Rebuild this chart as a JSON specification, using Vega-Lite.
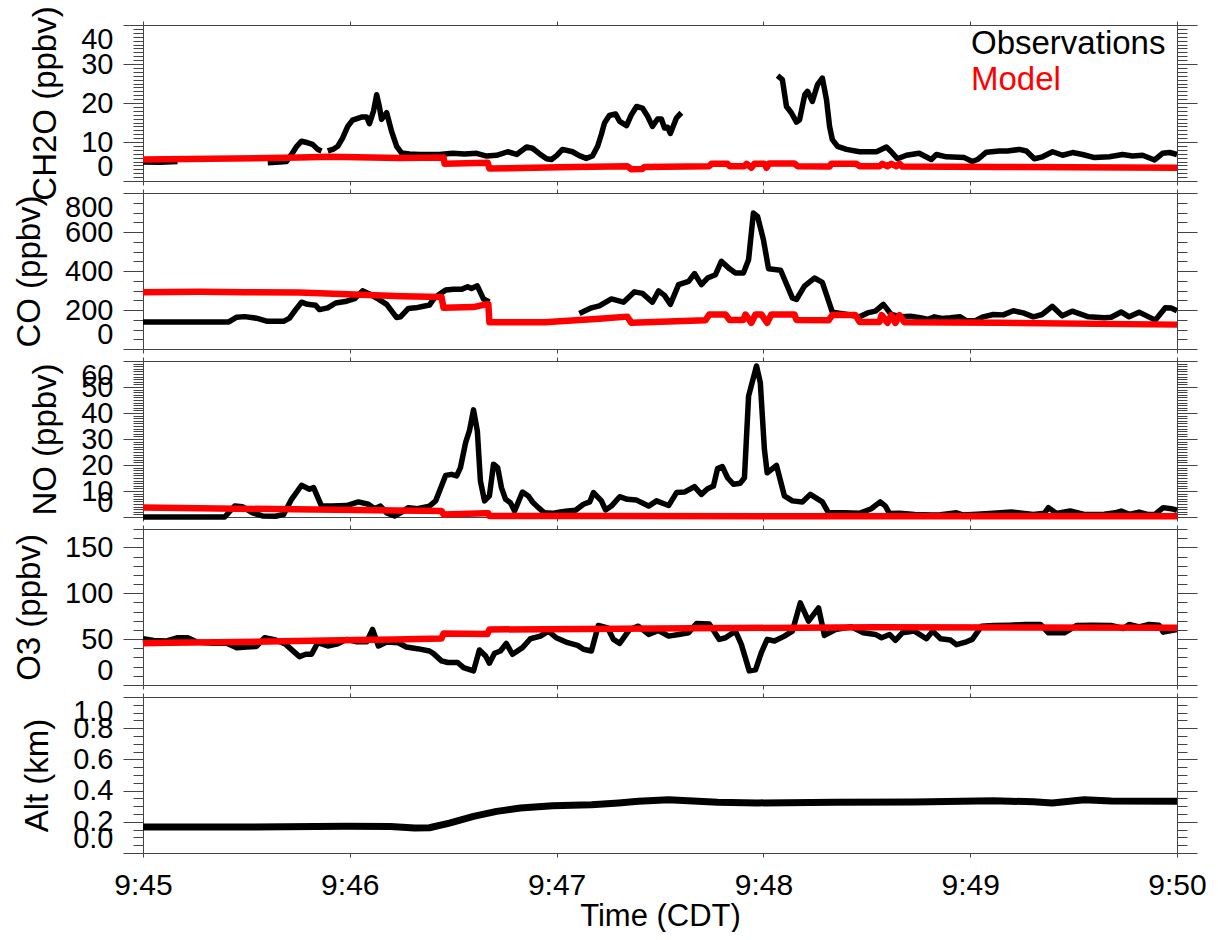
{
"$schema": "https://vega.github.io/schema/vega-lite/v6.json",
"padding": {"left": 13, "top": 5, "right": 5, "bottom": 0},
"config": {
  "font": "Liberation Sans",
  "view": {"stroke": "#444444", "strokeWidth": 1},
  "axis": {"domain": false, "grid": false, "tickColor": "#444444", "tickWidth": 1, "labelFont": "Liberation Sans", "titleFont": "Liberation Sans", "labelColor": "#000000", "titleColor": "#000000", "titleFontWeight": "normal"}
},
"datasets": {
"ch2o": [
{"series":"Observations","seg":1,"t":0,"v":4.9},{"series":"Observations","seg":1,"t":5,"v":4.8},{"series":"Observations","seg":1,"t":10,"v":5.0},
{"series":"Observations","seg":2,"t":36.2,"v":4.7},{"series":"Observations","seg":2,"t":39.6,"v":4.9},{"series":"Observations","seg":2,"t":41.6,"v":5.0},{"series":"Observations","seg":2,"t":43.1,"v":6.8},{"series":"Observations","seg":2,"t":44.6,"v":8.9},{"series":"Observations","seg":2,"t":46,"v":10.2},{"series":"Observations","seg":2,"t":47.8,"v":9.8},{"series":"Observations","seg":2,"t":49.2,"v":9.4},{"series":"Observations","seg":2,"t":50.7,"v":8.1},{"series":"Observations","seg":2,"t":51.8,"v":7.7},
{"series":"Observations","seg":3,"t":53.6,"v":7.7},{"series":"Observations","seg":3,"t":55.3,"v":8.2},{"series":"Observations","seg":3,"t":56.5,"v":8.9},{"series":"Observations","seg":3,"t":57.9,"v":11},{"series":"Observations","seg":3,"t":59.4,"v":14},{"series":"Observations","seg":3,"t":60.8,"v":15.6},{"series":"Observations","seg":3,"t":63.4,"v":16.4},{"series":"Observations","seg":3,"t":64.9,"v":16.4},{"series":"Observations","seg":3,"t":65.7,"v":14.7},{"series":"Observations","seg":3,"t":66.9,"v":18},{"series":"Observations","seg":3,"t":67.8,"v":22.1},{"series":"Observations","seg":3,"t":68.6,"v":19},{"series":"Observations","seg":3,"t":69.2,"v":15.8},{"series":"Observations","seg":3,"t":70.7,"v":17.5},{"series":"Observations","seg":3,"t":72.1,"v":12.8},{"series":"Observations","seg":3,"t":73.6,"v":8.9},{"series":"Observations","seg":3,"t":75,"v":7.2},{"series":"Observations","seg":3,"t":77.3,"v":6.9},{"series":"Observations","seg":3,"t":80.2,"v":6.8},{"series":"Observations","seg":3,"t":86,"v":6.8},{"series":"Observations","seg":3,"t":89.8,"v":7.1},{"series":"Observations","seg":3,"t":93.3,"v":6.9},{"series":"Observations","seg":3,"t":96.8,"v":7.1},{"series":"Observations","seg":3,"t":99.7,"v":6.4},{"series":"Observations","seg":3,"t":102.6,"v":6.6},{"series":"Observations","seg":3,"t":105.8,"v":7.5},{"series":"Observations","seg":3,"t":108.4,"v":6.8},{"series":"Observations","seg":3,"t":111.3,"v":8.7},{"series":"Observations","seg":3,"t":113,"v":8.4},{"series":"Observations","seg":3,"t":115,"v":7},{"series":"Observations","seg":3,"t":117.1,"v":5.7},{"series":"Observations","seg":3,"t":118.5,"v":5.5},{"series":"Observations","seg":3,"t":120,"v":6.5},{"series":"Observations","seg":3,"t":121.7,"v":8.1},{"series":"Observations","seg":3,"t":124.6,"v":7.5},{"series":"Observations","seg":3,"t":126.6,"v":6.5},{"series":"Observations","seg":3,"t":128.6,"v":5.8},{"series":"Observations","seg":3,"t":130.4,"v":6.4},{"series":"Observations","seg":3,"t":131.9,"v":8.9},{"series":"Observations","seg":3,"t":133,"v":12},{"series":"Observations","seg":3,"t":133.9,"v":14.9},{"series":"Observations","seg":3,"t":135.3,"v":16.8},{"series":"Observations","seg":3,"t":137.1,"v":17.2},{"series":"Observations","seg":3,"t":138.3,"v":15.3},{"series":"Observations","seg":3,"t":140.3,"v":14.2},{"series":"Observations","seg":3,"t":141.7,"v":17},{"series":"Observations","seg":3,"t":143.2,"v":19.1},{"series":"Observations","seg":3,"t":144.9,"v":18.7},{"series":"Observations","seg":3,"t":146.4,"v":16.6},{"series":"Observations","seg":3,"t":147.8,"v":14},{"series":"Observations","seg":3,"t":149.3,"v":15.9},{"series":"Observations","seg":3,"t":150.4,"v":15.9},{"series":"Observations","seg":3,"t":151.3,"v":13.6},{"series":"Observations","seg":3,"t":152.2,"v":13.8},{"series":"Observations","seg":3,"t":153,"v":12.2},{"series":"Observations","seg":3,"t":154.8,"v":16.2},{"series":"Observations","seg":3,"t":156.2,"v":17.5},
{"series":"Observations","seg":4,"t":184.1,"v":27},{"series":"Observations","seg":4,"t":185.5,"v":26},{"series":"Observations","seg":4,"t":186.7,"v":19.1},{"series":"Observations","seg":4,"t":188.1,"v":17.5},{"series":"Observations","seg":4,"t":189.6,"v":15.1},{"series":"Observations","seg":4,"t":190.5,"v":15.7},{"series":"Observations","seg":4,"t":192,"v":22.1},{"series":"Observations","seg":4,"t":192.8,"v":23},{"series":"Observations","seg":4,"t":194.2,"v":20.4},{"series":"Observations","seg":4,"t":195.7,"v":24.7},{"series":"Observations","seg":4,"t":197.1,"v":26.4},{"series":"Observations","seg":4,"t":198.3,"v":20.9},{"series":"Observations","seg":4,"t":199.2,"v":14},{"series":"Observations","seg":4,"t":200,"v":10.6},{"series":"Observations","seg":4,"t":201.5,"v":8.9},{"series":"Observations","seg":4,"t":204.1,"v":8.1},{"series":"Observations","seg":4,"t":207.9,"v":7.5},{"series":"Observations","seg":4,"t":212.8,"v":7.5},{"series":"Observations","seg":4,"t":215.7,"v":8.7},{"series":"Observations","seg":4,"t":217.1,"v":7.5},{"series":"Observations","seg":4,"t":218.9,"v":5.7},{"series":"Observations","seg":4,"t":221.5,"v":6.6},{"series":"Observations","seg":4,"t":225.2,"v":7.1},{"series":"Observations","seg":4,"t":228.7,"v":5.5},{"series":"Observations","seg":4,"t":230.2,"v":6.8},{"series":"Observations","seg":4,"t":233.1,"v":6.2},{"series":"Observations","seg":4,"t":238.3,"v":6},{"series":"Observations","seg":4,"t":240.6,"v":5},{"series":"Observations","seg":4,"t":242.1,"v":5.5},{"series":"Observations","seg":4,"t":244.7,"v":7.4},{"series":"Observations","seg":4,"t":248.5,"v":7.7},{"series":"Observations","seg":4,"t":250.8,"v":7.7},{"series":"Observations","seg":4,"t":254.3,"v":8.1},{"series":"Observations","seg":4,"t":256.3,"v":7.7},{"series":"Observations","seg":4,"t":258.6,"v":5.7},{"series":"Observations","seg":4,"t":261,"v":6.2},{"series":"Observations","seg":4,"t":263.9,"v":7.5},{"series":"Observations","seg":4,"t":266.8,"v":6.6},{"series":"Observations","seg":4,"t":269.7,"v":7.3},{"series":"Observations","seg":4,"t":272.6,"v":6.8},{"series":"Observations","seg":4,"t":276.1,"v":6},{"series":"Observations","seg":4,"t":280.4,"v":6.2},{"series":"Observations","seg":4,"t":284.2,"v":6.8},{"series":"Observations","seg":4,"t":287.1,"v":6.4},{"series":"Observations","seg":4,"t":290,"v":6.6},{"series":"Observations","seg":4,"t":293.5,"v":5.4},{"series":"Observations","seg":4,"t":295.8,"v":7.1},{"series":"Observations","seg":4,"t":297.9,"v":7.3},{"series":"Observations","seg":4,"t":300,"v":6.8},
{"series":"Model","seg":1,"t":0,"v":5.5},{"series":"Model","seg":1,"t":45.4,"v":6.0},{"series":"Model","seg":1,"t":54.1,"v":6.2},{"series":"Model","seg":1,"t":74.4,"v":5.9},{"series":"Model","seg":1,"t":87.2,"v":6.0},{"series":"Model","seg":1,"t":87.5,"v":4.4},{"series":"Model","seg":1,"t":100,"v":4.7},{"series":"Model","seg":1,"t":100.5,"v":3.2},{"series":"Model","seg":1,"t":120.8,"v":3.5},{"series":"Model","seg":1,"t":140.5,"v":3.8},{"series":"Model","seg":1,"t":141.7,"v":3.0},{"series":"Model","seg":1,"t":144.9,"v":3.1},{"series":"Model","seg":1,"t":145.5,"v":3.6},{"series":"Model","seg":1,"t":164.3,"v":3.8},{"series":"Model","seg":1,"t":164.9,"v":4.4},{"series":"Model","seg":1,"t":169.6,"v":4.4},{"series":"Model","seg":1,"t":170.2,"v":3.8},{"series":"Model","seg":1,"t":174.5,"v":3.8},{"series":"Model","seg":1,"t":175.1,"v":4.4},{"series":"Model","seg":1,"t":176.5,"v":3.4},{"series":"Model","seg":1,"t":177.4,"v":4.4},{"series":"Model","seg":1,"t":180.3,"v":4.4},{"series":"Model","seg":1,"t":180.9,"v":3.4},{"series":"Model","seg":1,"t":181.7,"v":4.5},{"series":"Model","seg":1,"t":189,"v":4.5},{"series":"Model","seg":1,"t":189.9,"v":3.8},{"series":"Model","seg":1,"t":199.2,"v":3.7},{"series":"Model","seg":1,"t":199.7,"v":4.4},{"series":"Model","seg":1,"t":207,"v":4.4},{"series":"Model","seg":1,"t":207.9,"v":3.8},{"series":"Model","seg":1,"t":213.7,"v":3.8},{"series":"Model","seg":1,"t":214.5,"v":4.4},{"series":"Model","seg":1,"t":216,"v":3.8},{"series":"Model","seg":1,"t":217.1,"v":4.4},{"series":"Model","seg":1,"t":218.6,"v":3.8},{"series":"Model","seg":1,"t":219.5,"v":4.4},{"series":"Model","seg":1,"t":220.3,"v":3.7},{"series":"Model","seg":1,"t":248.5,"v":3.6},{"series":"Model","seg":1,"t":300,"v":3.4}
],
"co": [
{"series":"Observations","seg":1,"t":0,"v":139},{"series":"Observations","seg":1,"t":24.9,"v":139},{"series":"Observations","seg":1,"t":27.2,"v":163},{"series":"Observations","seg":1,"t":29.5,"v":166},{"series":"Observations","seg":1,"t":32.9,"v":158},{"series":"Observations","seg":1,"t":36.1,"v":142},{"series":"Observations","seg":1,"t":40.8,"v":142},{"series":"Observations","seg":1,"t":42.5,"v":158},{"series":"Observations","seg":1,"t":44.3,"v":202},{"series":"Observations","seg":1,"t":46,"v":240},{"series":"Observations","seg":1,"t":47.7,"v":229},{"series":"Observations","seg":1,"t":50.1,"v":224},{"series":"Observations","seg":1,"t":51.2,"v":202},{"series":"Observations","seg":1,"t":53.6,"v":211},{"series":"Observations","seg":1,"t":55.9,"v":236},{"series":"Observations","seg":1,"t":59.1,"v":245},{"series":"Observations","seg":1,"t":61.4,"v":258},{"series":"Observations","seg":1,"t":63.7,"v":298},{"series":"Observations","seg":1,"t":65.4,"v":285},{"series":"Observations","seg":1,"t":68.3,"v":256},{"series":"Observations","seg":1,"t":70.7,"v":229},{"series":"Observations","seg":1,"t":73.6,"v":161},{"series":"Observations","seg":1,"t":74.7,"v":165},{"series":"Observations","seg":1,"t":77,"v":208},{"series":"Observations","seg":1,"t":79.1,"v":211},{"series":"Observations","seg":1,"t":81.4,"v":219},{"series":"Observations","seg":1,"t":83.1,"v":225},{"series":"Observations","seg":1,"t":84.3,"v":256},{"series":"Observations","seg":1,"t":86,"v":281},{"series":"Observations","seg":1,"t":87.8,"v":302},{"series":"Observations","seg":1,"t":90.1,"v":306},{"series":"Observations","seg":1,"t":92.4,"v":306},{"series":"Observations","seg":1,"t":94.2,"v":319},{"series":"Observations","seg":1,"t":95.3,"v":310},{"series":"Observations","seg":1,"t":97,"v":324},{"series":"Observations","seg":1,"t":98.8,"v":256},{"series":"Observations","seg":1,"t":100.5,"v":241},
{"series":"Observations","seg":2,"t":126.6,"v":182},{"series":"Observations","seg":2,"t":130.1,"v":211},{"series":"Observations","seg":2,"t":132.4,"v":221},{"series":"Observations","seg":2,"t":135.9,"v":257},{"series":"Observations","seg":2,"t":139.4,"v":240},{"series":"Observations","seg":2,"t":142.6,"v":293},{"series":"Observations","seg":2,"t":144.9,"v":285},{"series":"Observations","seg":2,"t":147.8,"v":240},{"series":"Observations","seg":2,"t":149.6,"v":298},{"series":"Observations","seg":2,"t":151.3,"v":275},{"series":"Observations","seg":2,"t":153,"v":229},{"series":"Observations","seg":2,"t":155.4,"v":330},{"series":"Observations","seg":2,"t":158.3,"v":347},{"series":"Observations","seg":2,"t":160,"v":387},{"series":"Observations","seg":2,"t":162,"v":330},{"series":"Observations","seg":2,"t":163.8,"v":364},{"series":"Observations","seg":2,"t":166.1,"v":381},{"series":"Observations","seg":2,"t":167.8,"v":450},{"series":"Observations","seg":2,"t":170.2,"v":411},{"series":"Observations","seg":2,"t":171.9,"v":390},{"series":"Observations","seg":2,"t":174.2,"v":390},{"series":"Observations","seg":2,"t":175.7,"v":458},{"series":"Observations","seg":2,"t":177.1,"v":697},{"series":"Observations","seg":2,"t":178.3,"v":680},{"series":"Observations","seg":2,"t":180,"v":561},{"series":"Observations","seg":2,"t":181.5,"v":411},{"series":"Observations","seg":2,"t":185,"v":404},{"series":"Observations","seg":2,"t":188.4,"v":262},{"series":"Observations","seg":2,"t":189.6,"v":254},{"series":"Observations","seg":2,"t":191.9,"v":322},{"series":"Observations","seg":2,"t":194.8,"v":364},{"series":"Observations","seg":2,"t":197.1,"v":342},{"series":"Observations","seg":2,"t":200,"v":189},{"series":"Observations","seg":2,"t":204.4,"v":177},{"series":"Observations","seg":2,"t":207.9,"v":165},{"series":"Observations","seg":2,"t":210.2,"v":185},{"series":"Observations","seg":2,"t":212.5,"v":194},{"series":"Observations","seg":2,"t":214.8,"v":229},{"series":"Observations","seg":2,"t":217.1,"v":177},{"series":"Observations","seg":2,"t":220,"v":165},{"series":"Observations","seg":2,"t":222.6,"v":168},{"series":"Observations","seg":2,"t":225.5,"v":160},{"series":"Observations","seg":2,"t":227.9,"v":152},{"series":"Observations","seg":2,"t":229.6,"v":165},{"series":"Observations","seg":2,"t":231.9,"v":157},{"series":"Observations","seg":2,"t":234.2,"v":160},{"series":"Observations","seg":2,"t":237.1,"v":165},{"series":"Observations","seg":2,"t":238.9,"v":145},{"series":"Observations","seg":2,"t":241.5,"v":145},{"series":"Observations","seg":2,"t":243.8,"v":165},{"series":"Observations","seg":2,"t":246.7,"v":177},{"series":"Observations","seg":2,"t":249.6,"v":175},{"series":"Observations","seg":2,"t":252.5,"v":196},{"series":"Observations","seg":2,"t":255.4,"v":185},{"series":"Observations","seg":2,"t":258.3,"v":165},{"series":"Observations","seg":2,"t":260.9,"v":177},{"series":"Observations","seg":2,"t":263.8,"v":219},{"series":"Observations","seg":2,"t":266.7,"v":170},{"series":"Observations","seg":2,"t":269.6,"v":194},{"series":"Observations","seg":2,"t":274.3,"v":165},{"series":"Observations","seg":2,"t":278.9,"v":160},{"series":"Observations","seg":2,"t":280.9,"v":163},{"series":"Observations","seg":2,"t":283.8,"v":190},{"series":"Observations","seg":2,"t":286.1,"v":165},{"series":"Observations","seg":2,"t":289,"v":189},{"series":"Observations","seg":2,"t":293.7,"v":148},{"series":"Observations","seg":2,"t":296.6,"v":212},{"series":"Observations","seg":2,"t":298.3,"v":210},{"series":"Observations","seg":2,"t":300,"v":196},
{"series":"Model","seg":1,"t":0,"v":291},{"series":"Model","seg":1,"t":16.4,"v":293},{"series":"Model","seg":1,"t":29.5,"v":291},{"series":"Model","seg":1,"t":45.4,"v":290},{"series":"Model","seg":1,"t":61.4,"v":279},{"series":"Model","seg":1,"t":75.3,"v":271},{"series":"Model","seg":1,"t":86.6,"v":267},{"series":"Model","seg":1,"t":87.2,"v":211},{"series":"Model","seg":1,"t":95.9,"v":215},{"series":"Model","seg":1,"t":99.4,"v":229},{"series":"Model","seg":1,"t":100.2,"v":229},{"series":"Model","seg":1,"t":100.5,"v":137},{"series":"Model","seg":1,"t":116.5,"v":137},{"series":"Model","seg":1,"t":132.4,"v":155},{"series":"Model","seg":1,"t":140.5,"v":166},{"series":"Model","seg":1,"t":141.7,"v":134},{"series":"Model","seg":1,"t":163.2,"v":147},{"series":"Model","seg":1,"t":164.3,"v":177},{"series":"Model","seg":1,"t":169,"v":177},{"series":"Model","seg":1,"t":170.2,"v":149},{"series":"Model","seg":1,"t":174.2,"v":149},{"series":"Model","seg":1,"t":174.8,"v":177},{"series":"Model","seg":1,"t":176.5,"v":134},{"series":"Model","seg":1,"t":177.7,"v":177},{"series":"Model","seg":1,"t":179.4,"v":177},{"series":"Model","seg":1,"t":181.1,"v":134},{"series":"Model","seg":1,"t":182.3,"v":177},{"series":"Model","seg":1,"t":189,"v":177},{"series":"Model","seg":1,"t":189.6,"v":149},{"series":"Model","seg":1,"t":198.9,"v":147},{"series":"Model","seg":1,"t":200,"v":174},{"series":"Model","seg":1,"t":206.7,"v":174},{"series":"Model","seg":1,"t":207.9,"v":139},{"series":"Model","seg":1,"t":213.7,"v":139},{"series":"Model","seg":1,"t":214.3,"v":174},{"series":"Model","seg":1,"t":216,"v":134},{"series":"Model","seg":1,"t":217.1,"v":174},{"series":"Model","seg":1,"t":218.3,"v":134},{"series":"Model","seg":1,"t":219.5,"v":174},{"series":"Model","seg":1,"t":220.9,"v":137},{"series":"Model","seg":1,"t":248.5,"v":134},{"series":"Model","seg":1,"t":300,"v":125}
],
"no": [
{"series":"Observations","seg":1,"t":0,"v":0},{"series":"Observations","seg":1,"t":23.7,"v":0},{"series":"Observations","seg":1,"t":26.6,"v":4.2},{"series":"Observations","seg":1,"t":28.9,"v":3.9},{"series":"Observations","seg":1,"t":31.8,"v":1.6},{"series":"Observations","seg":1,"t":34.7,"v":0.4},{"series":"Observations","seg":1,"t":38.5,"v":0.3},{"series":"Observations","seg":1,"t":40.8,"v":1},{"series":"Observations","seg":1,"t":43.1,"v":6.8},{"series":"Observations","seg":1,"t":46,"v":12.2},{"series":"Observations","seg":1,"t":48.3,"v":10.7},{"series":"Observations","seg":1,"t":49.5,"v":11.3},{"series":"Observations","seg":1,"t":51.8,"v":4.2},{"series":"Observations","seg":1,"t":54.7,"v":4.2},{"series":"Observations","seg":1,"t":59.1,"v":4.4},{"series":"Observations","seg":1,"t":62.5,"v":5.8},{"series":"Observations","seg":1,"t":65.4,"v":4.9},{"series":"Observations","seg":1,"t":67.2,"v":3.2},{"series":"Observations","seg":1,"t":68.9,"v":4.2},{"series":"Observations","seg":1,"t":70.7,"v":1.6},{"series":"Observations","seg":1,"t":73,"v":0.4},{"series":"Observations","seg":1,"t":74.7,"v":1.6},{"series":"Observations","seg":1,"t":77,"v":3.6},{"series":"Observations","seg":1,"t":79.6,"v":3.2},{"series":"Observations","seg":1,"t":83.1,"v":4.2},{"series":"Observations","seg":1,"t":84.9,"v":6.2},{"series":"Observations","seg":1,"t":86.6,"v":11.9},{"series":"Observations","seg":1,"t":87.8,"v":16},{"series":"Observations","seg":1,"t":89.5,"v":16.4},{"series":"Observations","seg":1,"t":91,"v":15.8},{"series":"Observations","seg":1,"t":92.1,"v":19},{"series":"Observations","seg":1,"t":93.6,"v":28.6},{"series":"Observations","seg":1,"t":94.7,"v":33.1},{"series":"Observations","seg":1,"t":95.9,"v":41.2},{"series":"Observations","seg":1,"t":97,"v":33.1},{"series":"Observations","seg":1,"t":97.9,"v":13.8},{"series":"Observations","seg":1,"t":99.1,"v":6.2},{"series":"Observations","seg":1,"t":100.5,"v":8.1},{"series":"Observations","seg":1,"t":101.7,"v":20.3},{"series":"Observations","seg":1,"t":102.9,"v":19},{"series":"Observations","seg":1,"t":104,"v":11.3},{"series":"Observations","seg":1,"t":105.2,"v":6.8},{"series":"Observations","seg":1,"t":106.6,"v":5.5},{"series":"Observations","seg":1,"t":107.8,"v":2.3},{"series":"Observations","seg":1,"t":110.1,"v":9.6},{"series":"Observations","seg":1,"t":111.8,"v":8.1},{"series":"Observations","seg":1,"t":113,"v":5.8},{"series":"Observations","seg":1,"t":114.7,"v":3.6},{"series":"Observations","seg":1,"t":116.5,"v":1.6},{"series":"Observations","seg":1,"t":118.8,"v":1.4},{"series":"Observations","seg":1,"t":121.1,"v":1.9},{"series":"Observations","seg":1,"t":123.2,"v":2.3},{"series":"Observations","seg":1,"t":125.5,"v":2.6},{"series":"Observations","seg":1,"t":127.8,"v":4.9},{"series":"Observations","seg":1,"t":129.6,"v":5.8},{"series":"Observations","seg":1,"t":130.7,"v":9.4},{"series":"Observations","seg":1,"t":133,"v":6.2},{"series":"Observations","seg":1,"t":134.2,"v":2.7},{"series":"Observations","seg":1,"t":135.9,"v":4.2},{"series":"Observations","seg":1,"t":138.3,"v":7.8},{"series":"Observations","seg":1,"t":140.5,"v":6.8},{"series":"Observations","seg":1,"t":143.2,"v":6.5},{"series":"Observations","seg":1,"t":146.7,"v":4.2},{"series":"Observations","seg":1,"t":149,"v":6.2},{"series":"Observations","seg":1,"t":152.5,"v":4.4},{"series":"Observations","seg":1,"t":154.8,"v":9.4},{"series":"Observations","seg":1,"t":157.1,"v":9.6},{"series":"Observations","seg":1,"t":160,"v":11.7},{"series":"Observations","seg":1,"t":162,"v":8.7},{"series":"Observations","seg":1,"t":163.8,"v":10.9},{"series":"Observations","seg":1,"t":165.5,"v":11.9},{"series":"Observations","seg":1,"t":166.7,"v":18.6},{"series":"Observations","seg":1,"t":168.1,"v":19.4},{"series":"Observations","seg":1,"t":169.6,"v":15.1},{"series":"Observations","seg":1,"t":171.3,"v":12.6},{"series":"Observations","seg":1,"t":173.3,"v":13},{"series":"Observations","seg":1,"t":174.5,"v":15.1},{"series":"Observations","seg":1,"t":175.7,"v":46.5},{"series":"Observations","seg":1,"t":178,"v":58.1},{"series":"Observations","seg":1,"t":179.1,"v":51.7},{"series":"Observations","seg":1,"t":180.3,"v":25.9},{"series":"Observations","seg":1,"t":181.1,"v":17},{"series":"Observations","seg":1,"t":183.8,"v":19.8},{"series":"Observations","seg":1,"t":186.1,"v":8.1},{"series":"Observations","seg":1,"t":188.4,"v":6.2},{"series":"Observations","seg":1,"t":191.3,"v":5.8},{"series":"Observations","seg":1,"t":193.6,"v":8.7},{"series":"Observations","seg":1,"t":197.1,"v":5.8},{"series":"Observations","seg":1,"t":198.9,"v":1.6},{"series":"Observations","seg":1,"t":203.2,"v":1.6},{"series":"Observations","seg":1,"t":207.9,"v":1.4},{"series":"Observations","seg":1,"t":211.3,"v":3.2},{"series":"Observations","seg":1,"t":213.9,"v":5.8},{"series":"Observations","seg":1,"t":215.4,"v":4.2},{"series":"Observations","seg":1,"t":216.6,"v":1.3},{"series":"Observations","seg":1,"t":219.5,"v":1.4},{"series":"Observations","seg":1,"t":223.9,"v":1},{"series":"Observations","seg":1,"t":228.5,"v":0.8},{"series":"Observations","seg":1,"t":231.4,"v":0.9},{"series":"Observations","seg":1,"t":236,"v":1.6},{"series":"Observations","seg":1,"t":237.8,"v":0.8},{"series":"Observations","seg":1,"t":242.1,"v":1.1},{"series":"Observations","seg":1,"t":246.7,"v":1.4},{"series":"Observations","seg":1,"t":252,"v":1.9},{"series":"Observations","seg":1,"t":258.3,"v":1},{"series":"Observations","seg":1,"t":261.5,"v":1.4},{"series":"Observations","seg":1,"t":262.7,"v":3.6},{"series":"Observations","seg":1,"t":265,"v":1.4},{"series":"Observations","seg":1,"t":269,"v":2.3},{"series":"Observations","seg":1,"t":273.1,"v":1},{"series":"Observations","seg":1,"t":278.9,"v":1.1},{"series":"Observations","seg":1,"t":282.1,"v":1.6},{"series":"Observations","seg":1,"t":283.8,"v":2.3},{"series":"Observations","seg":1,"t":286.1,"v":1},{"series":"Observations","seg":1,"t":289,"v":1.9},{"series":"Observations","seg":1,"t":291.4,"v":1},{"series":"Observations","seg":1,"t":293.7,"v":1.1},{"series":"Observations","seg":1,"t":296,"v":3.6},{"series":"Observations","seg":1,"t":298.3,"v":3.2},{"series":"Observations","seg":1,"t":300,"v":2.6},
{"series":"Model","seg":1,"t":0,"v":3.7},{"series":"Model","seg":1,"t":27.2,"v":3.2},{"series":"Model","seg":1,"t":61.4,"v":2.7},{"series":"Model","seg":1,"t":86.6,"v":2.3},{"series":"Model","seg":1,"t":87.2,"v":1.0},{"series":"Model","seg":1,"t":99.4,"v":1.4},{"series":"Model","seg":1,"t":100.2,"v":1.4},{"series":"Model","seg":1,"t":100.5,"v":0.4},{"series":"Model","seg":1,"t":132.4,"v":0.4},{"series":"Model","seg":1,"t":190.4,"v":0.3},{"series":"Model","seg":1,"t":300,"v":0.3}
],
"o3": [
{"series":"Observations","seg":1,"t":0,"v":50.4},{"series":"Observations","seg":1,"t":3.1,"v":48.6},{"series":"Observations","seg":1,"t":6.6,"v":47.9},{"series":"Observations","seg":1,"t":10.1,"v":51.5},{"series":"Observations","seg":1,"t":13,"v":51.5},{"series":"Observations","seg":1,"t":15.6,"v":46.8},{"series":"Observations","seg":1,"t":20.2,"v":45.4},{"series":"Observations","seg":1,"t":24.3,"v":45.4},{"series":"Observations","seg":1,"t":27.2,"v":40.7},{"series":"Observations","seg":1,"t":30,"v":41.3},{"series":"Observations","seg":1,"t":32.9,"v":42},{"series":"Observations","seg":1,"t":35.3,"v":51.5},{"series":"Observations","seg":1,"t":38.5,"v":49},{"series":"Observations","seg":1,"t":41.4,"v":44.3},{"series":"Observations","seg":1,"t":45.4,"v":30.9},{"series":"Observations","seg":1,"t":47.2,"v":33.5},{"series":"Observations","seg":1,"t":48.9,"v":33.5},{"series":"Observations","seg":1,"t":50.7,"v":46.1},{"series":"Observations","seg":1,"t":53.6,"v":42.5},{"series":"Observations","seg":1,"t":56.5,"v":45},{"series":"Observations","seg":1,"t":59.1,"v":49.7},{"series":"Observations","seg":1,"t":62,"v":47},{"series":"Observations","seg":1,"t":64.9,"v":47},{"series":"Observations","seg":1,"t":66.6,"v":60.5},{"series":"Observations","seg":1,"t":68.3,"v":42.5},{"series":"Observations","seg":1,"t":70.7,"v":46.8},{"series":"Observations","seg":1,"t":74.1,"v":46},{"series":"Observations","seg":1,"t":76.4,"v":41.4},{"series":"Observations","seg":1,"t":79.6,"v":39.6},{"series":"Observations","seg":1,"t":83.1,"v":37.1},{"series":"Observations","seg":1,"t":84.3,"v":34.2},{"series":"Observations","seg":1,"t":86.6,"v":26.3},{"series":"Observations","seg":1,"t":88.4,"v":24.5},{"series":"Observations","seg":1,"t":91.3,"v":24.5},{"series":"Observations","seg":1,"t":93,"v":19},{"series":"Observations","seg":1,"t":95.9,"v":15.4},{"series":"Observations","seg":1,"t":97.6,"v":38.2},{"series":"Observations","seg":1,"t":99.4,"v":31.6},{"series":"Observations","seg":1,"t":100.5,"v":23.8},{"series":"Observations","seg":1,"t":102,"v":34.6},{"series":"Observations","seg":1,"t":103.7,"v":37.1},{"series":"Observations","seg":1,"t":105.4,"v":45.4},{"series":"Observations","seg":1,"t":107.2,"v":33.5},{"series":"Observations","seg":1,"t":110.1,"v":40.7},{"series":"Observations","seg":1,"t":112.4,"v":50.4},{"series":"Observations","seg":1,"t":115.3,"v":53.3},{"series":"Observations","seg":1,"t":117.6,"v":58.7},{"series":"Observations","seg":1,"t":119.9,"v":51.5},{"series":"Observations","seg":1,"t":123.2,"v":46.1},{"series":"Observations","seg":1,"t":126.1,"v":43.2},{"series":"Observations","seg":1,"t":127.8,"v":38.9},{"series":"Observations","seg":1,"t":130.1,"v":37.1},{"series":"Observations","seg":1,"t":132.1,"v":64.8},{"series":"Observations","seg":1,"t":134.8,"v":62.2},{"series":"Observations","seg":1,"t":136.5,"v":49.7},{"series":"Observations","seg":1,"t":138.3,"v":45.4},{"series":"Observations","seg":1,"t":141.2,"v":60.5},{"series":"Observations","seg":1,"t":143.7,"v":64.1},{"series":"Observations","seg":1,"t":146.7,"v":55.1},{"series":"Observations","seg":1,"t":149.6,"v":59.4},{"series":"Observations","seg":1,"t":152.5,"v":53.3},{"series":"Observations","seg":1,"t":155.4,"v":55.1},{"series":"Observations","seg":1,"t":158.3,"v":56.9},{"series":"Observations","seg":1,"t":160.6,"v":67},{"series":"Observations","seg":1,"t":164.3,"v":66.6},{"series":"Observations","seg":1,"t":167.2,"v":49.7},{"series":"Observations","seg":1,"t":169,"v":51.5},{"series":"Observations","seg":1,"t":171.9,"v":58.7},{"series":"Observations","seg":1,"t":173.6,"v":44.3},{"series":"Observations","seg":1,"t":175.9,"v":15.4},{"series":"Observations","seg":1,"t":177.7,"v":16.5},{"series":"Observations","seg":1,"t":179.4,"v":35.3},{"series":"Observations","seg":1,"t":181.1,"v":49.7},{"series":"Observations","seg":1,"t":183.2,"v":47.9},{"series":"Observations","seg":1,"t":186.1,"v":53.3},{"series":"Observations","seg":1,"t":188.4,"v":58.7},{"series":"Observations","seg":1,"t":190.7,"v":89.5},{"series":"Observations","seg":1,"t":193.1,"v":69.6},{"series":"Observations","seg":1,"t":196,"v":84},{"series":"Observations","seg":1,"t":197.7,"v":54},{"series":"Observations","seg":1,"t":200.9,"v":60.5},{"series":"Observations","seg":1,"t":205.5,"v":63.4},{"series":"Observations","seg":1,"t":209,"v":56.9},{"series":"Observations","seg":1,"t":212.5,"v":55.1},{"series":"Observations","seg":1,"t":214.3,"v":51.5},{"series":"Observations","seg":1,"t":216.6,"v":55.1},{"series":"Observations","seg":1,"t":218.3,"v":48.6},{"series":"Observations","seg":1,"t":220.3,"v":56.9},{"series":"Observations","seg":1,"t":223.8,"v":58.7},{"series":"Observations","seg":1,"t":227.3,"v":50.4},{"series":"Observations","seg":1,"t":229.1,"v":58.7},{"series":"Observations","seg":1,"t":231.4,"v":50.4},{"series":"Observations","seg":1,"t":234.3,"v":49},{"series":"Observations","seg":1,"t":236,"v":43.9},{"series":"Observations","seg":1,"t":238.9,"v":47.1},{"series":"Observations","seg":1,"t":240.6,"v":49.7},{"series":"Observations","seg":1,"t":243.3,"v":64.1},{"series":"Observations","seg":1,"t":246.7,"v":64.8},{"series":"Observations","seg":1,"t":251.4,"v":65.2},{"series":"Observations","seg":1,"t":256,"v":65.9},{"series":"Observations","seg":1,"t":260.4,"v":65.9},{"series":"Observations","seg":1,"t":262.7,"v":56.9},{"series":"Observations","seg":1,"t":267.3,"v":56.9},{"series":"Observations","seg":1,"t":270.8,"v":64.8},{"series":"Observations","seg":1,"t":275.4,"v":65.2},{"series":"Observations","seg":1,"t":280.9,"v":64.8},{"series":"Observations","seg":1,"t":284.4,"v":61.6},{"series":"Observations","seg":1,"t":286.1,"v":65.9},{"series":"Observations","seg":1,"t":289,"v":63.4},{"series":"Observations","seg":1,"t":291.9,"v":65.9},{"series":"Observations","seg":1,"t":294.8,"v":65.2},{"series":"Observations","seg":1,"t":296,"v":57.6},{"series":"Observations","seg":1,"t":300,"v":60.5},
{"series":"Model","seg":1,"t":0,"v":45.4},{"series":"Model","seg":1,"t":7.8,"v":46.1},{"series":"Model","seg":1,"t":27.2,"v":46.8},{"series":"Model","seg":1,"t":61.4,"v":49},{"series":"Model","seg":1,"t":73,"v":49.7},{"series":"Model","seg":1,"t":86.6,"v":50.8},{"series":"Model","seg":1,"t":87.2,"v":56.2},{"series":"Model","seg":1,"t":99.9,"v":55.5},{"series":"Model","seg":1,"t":100.5,"v":60.5},{"series":"Model","seg":1,"t":138,"v":61.3},{"series":"Model","seg":1,"t":212.5,"v":63},{"series":"Model","seg":1,"t":300,"v":62.4}
],
"alt": [
{"series":"Observations","seg":1,"t":0,"v":0.167},{"series":"Observations","seg":1,"t":31,"v":0.166},{"series":"Observations","seg":1,"t":59.1,"v":0.171},{"series":"Observations","seg":1,"t":71.8,"v":0.17},{"series":"Observations","seg":1,"t":78.8,"v":0.16},{"series":"Observations","seg":1,"t":83.1,"v":0.162},{"series":"Observations","seg":1,"t":88.9,"v":0.192},{"series":"Observations","seg":1,"t":95.9,"v":0.235},{"series":"Observations","seg":1,"t":102.6,"v":0.267},{"series":"Observations","seg":1,"t":109.5,"v":0.288},{"series":"Observations","seg":1,"t":118.8,"v":0.303},{"series":"Observations","seg":1,"t":130.1,"v":0.31},{"series":"Observations","seg":1,"t":138,"v":0.321},{"series":"Observations","seg":1,"t":143.7,"v":0.331},{"series":"Observations","seg":1,"t":152.5,"v":0.342},{"series":"Observations","seg":1,"t":166.7,"v":0.325},{"series":"Observations","seg":1,"t":178.3,"v":0.321},{"series":"Observations","seg":1,"t":200.9,"v":0.325},{"series":"Observations","seg":1,"t":223.8,"v":0.327},{"series":"Observations","seg":1,"t":246.7,"v":0.335},{"series":"Observations","seg":1,"t":258.3,"v":0.328},{"series":"Observations","seg":1,"t":263.8,"v":0.321},{"series":"Observations","seg":1,"t":273.1,"v":0.342},{"series":"Observations","seg":1,"t":280.9,"v":0.333},{"series":"Observations","seg":1,"t":300,"v":0.331}
]
},
"vconcat": [
{
 "width": 1034, "height": 156,
 "data": {"name": "ch2o"},
 "layer": [
  {"transform": [{"filter": "datum.series === 'Observations'"}],
   "mark": {"type": "line", "strokeWidth": 5.5, "strokeJoin": "round"},
   "encoding": {
    "x": {"field": "t", "type": "quantitative", "scale": {"domain": [0, 300], "nice": false, "zero": false}, "axis": {"orient": "bottom", "values": [0, 60, 120, 180, 240, 300], "tickSize": 4, "labels": false, "title": null}},
    "y": {"field": "v", "type": "quantitative", "scale": {"domain": [0, 40], "nice": false}, "axis": {"orient": "left", "values": [0, 10, 20, 30, 40], "tickSize": 20, "labelFlush": true, "labelOverlap": false, "labelPadding": 10, "labelFontSize": 29, "title": "CH2O (ppbv)", "titleFontSize": 33, "titlePadding": 18}},
    "detail": {"field": "seg", "type": "nominal"},
    "color": {"field": "series", "type": "nominal", "scale": {"domain": ["Observations", "Model"], "range": ["#000000", "#ff0000"]}, "legend": {"title": null, "orient": "none", "legendX": 795, "legendY": 2, "padding": 0, "labelFontSize": 33, "labelFont": "Liberation Sans", "labelLimit": 400, "symbolOpacity": 0, "symbolSize": 0, "symbolStrokeWidth": 0, "labelOffset": 0, "encode": {"labels": {"update": {"fill": {"signal": "datum.value === 'Model' ? '#ff0000' : '#000000'"}}}}}}
   }},
  {"transform": [{"filter": "datum.series === 'Model'"}],
   "mark": {"type": "line", "strokeWidth": 6.5, "strokeJoin": "round"},
   "encoding": {
    "x": {"field": "t", "type": "quantitative", "scale": {"domain": [0, 300], "nice": false, "zero": false}, "axis": {"orient": "top", "values": [0, 60, 120, 180, 240, 300], "tickSize": 4, "labels": false, "title": null}},
    "y": {"field": "v", "type": "quantitative", "scale": {"domain": [0, 40], "nice": false}, "axis": {"orient": "left", "values": [0,1,2,3,4,5,6,7,8,9,10,11,12,13,14,15,16,17,18,19,20,21,22,23,24,25,26,27,28,29,30,31,32,33,34,35,36,37,38,39,40], "tickSize": 10, "labels": false, "title": null}},
    "color": {"field": "series", "type": "nominal", "scale": {"domain": ["Observations", "Model"], "range": ["#000000", "#ff0000"]}, "legend": {"title": null, "orient": "none", "legendX": 795, "legendY": 2, "padding": 0, "labelFontSize": 33, "labelFont": "Liberation Sans", "labelLimit": 400, "symbolOpacity": 0, "symbolSize": 0, "symbolStrokeWidth": 0, "labelOffset": 0, "encode": {"labels": {"update": {"fill": {"signal": "datum.value === 'Model' ? '#ff0000' : '#000000'"}}}}}}
   }},
  {"transform": [{"filter": "datum.series === 'Model'"}],
   "mark": {"type": "line", "opacity": 0},
   "encoding": {
    "x": {"field": "t", "type": "quantitative", "scale": {"domain": [0, 300], "nice": false, "zero": false}, "axis": null},
    "y": {"field": "v", "type": "quantitative", "scale": {"domain": [0, 40], "nice": false}, "axis": {"orient": "right", "values": [0, 10, 20, 30, 40], "tickSize": 20, "labels": false, "title": null}}
   }},
  {"transform": [{"filter": "datum.series === 'Model'"}],
   "mark": {"type": "line", "opacity": 0},
   "encoding": {
    "x": {"field": "t", "type": "quantitative", "scale": {"domain": [0, 300], "nice": false, "zero": false}, "axis": null},
    "y": {"field": "v", "type": "quantitative", "scale": {"domain": [0, 40], "nice": false}, "axis": {"orient": "right", "values": [0,1,2,3,4,5,6,7,8,9,10,11,12,13,14,15,16,17,18,19,20,21,22,23,24,25,26,27,28,29,30,31,32,33,34,35,36,37,38,39,40], "tickSize": 10, "labels": false, "title": null}}
   }}
 ],
 "resolve": {"axis": {"x": "independent", "y": "independent"}}
},
{
 "width": 1034, "height": 156,
 "data": {"name": "co"},
 "layer": [
  {"transform": [{"filter": "datum.series === 'Observations'"}],
   "mark": {"type": "line", "strokeWidth": 5.5, "strokeJoin": "round", "color": "#000000"},
   "encoding": {
    "x": {"field": "t", "type": "quantitative", "scale": {"domain": [0, 300], "nice": false, "zero": false}, "axis": {"orient": "bottom", "values": [0, 60, 120, 180, 240, 300], "tickSize": 4, "labels": false, "title": null}},
    "y": {"field": "v", "type": "quantitative", "scale": {"domain": [0, 800], "nice": false}, "axis": {"orient": "left", "values": [0, 200, 400, 600, 800], "tickSize": 20, "labelFlush": true, "labelOverlap": false, "labelPadding": 10, "labelFontSize": 29, "title": "CO (ppbv)", "titleFontSize": 33, "titlePadding": 18}},
    "detail": {"field": "seg", "type": "nominal"}
   }},
  {"transform": [{"filter": "datum.series === 'Model'"}],
   "mark": {"type": "line", "strokeWidth": 6.5, "strokeJoin": "round", "color": "#ff0000"},
   "encoding": {
    "x": {"field": "t", "type": "quantitative", "scale": {"domain": [0, 300], "nice": false, "zero": false}, "axis": {"orient": "top", "values": [0, 60, 120, 180, 240, 300], "tickSize": 4, "labels": false, "title": null}},
    "y": {"field": "v", "type": "quantitative", "scale": {"domain": [0, 800], "nice": false}, "axis": {"orient": "left", "values": [0,50,100,150,200,250,300,350,400,450,500,550,600,650,700,750,800], "tickSize": 10, "labels": false, "title": null}}
   }},
  {"transform": [{"filter": "datum.series === 'Model'"}],
   "mark": {"type": "line", "opacity": 0},
   "encoding": {
    "x": {"field": "t", "type": "quantitative", "scale": {"domain": [0, 300], "nice": false, "zero": false}, "axis": null},
    "y": {"field": "v", "type": "quantitative", "scale": {"domain": [0, 800], "nice": false}, "axis": {"orient": "right", "values": [0, 200, 400, 600, 800], "tickSize": 20, "labels": false, "title": null}}
   }},
  {"transform": [{"filter": "datum.series === 'Model'"}],
   "mark": {"type": "line", "opacity": 0},
   "encoding": {
    "x": {"field": "t", "type": "quantitative", "scale": {"domain": [0, 300], "nice": false, "zero": false}, "axis": null},
    "y": {"field": "v", "type": "quantitative", "scale": {"domain": [0, 800], "nice": false}, "axis": {"orient": "right", "values": [0,50,100,150,200,250,300,350,400,450,500,550,600,650,700,750,800], "tickSize": 10, "labels": false, "title": null}}
   }}
 ],
 "resolve": {"axis": {"x": "independent", "y": "independent"}}
},
{
 "width": 1034, "height": 156,
 "data": {"name": "no"},
 "layer": [
  {"transform": [{"filter": "datum.series === 'Observations'"}],
   "mark": {"type": "line", "strokeWidth": 5.5, "strokeJoin": "round", "color": "#000000"},
   "encoding": {
    "x": {"field": "t", "type": "quantitative", "scale": {"domain": [0, 300], "nice": false, "zero": false}, "axis": {"orient": "bottom", "values": [0, 60, 120, 180, 240, 300], "tickSize": 4, "labels": false, "title": null}},
    "y": {"field": "v", "type": "quantitative", "scale": {"domain": [0, 60], "nice": false}, "axis": {"orient": "left", "values": [0, 10, 20, 30, 40, 50, 60], "tickSize": 20, "labelFlush": true, "labelOverlap": false, "labelPadding": 10, "labelFontSize": 29, "title": "NO (ppbv)", "titleFontSize": 33, "titlePadding": 18}},
    "detail": {"field": "seg", "type": "nominal"}
   }},
  {"transform": [{"filter": "datum.series === 'Model'"}],
   "mark": {"type": "line", "strokeWidth": 6.5, "strokeJoin": "round", "color": "#ff0000"},
   "encoding": {
    "x": {"field": "t", "type": "quantitative", "scale": {"domain": [0, 300], "nice": false, "zero": false}, "axis": {"orient": "top", "values": [0, 60, 120, 180, 240, 300], "tickSize": 4, "labels": false, "title": null}},
    "y": {"field": "v", "type": "quantitative", "scale": {"domain": [0, 60], "nice": false}, "axis": {"orient": "left", "values": [0,1,2,3,4,5,6,7,8,9,10,11,12,13,14,15,16,17,18,19,20,21,22,23,24,25,26,27,28,29,30,31,32,33,34,35,36,37,38,39,40,41,42,43,44,45,46,47,48,49,50,51,52,53,54,55,56,57,58,59,60], "tickSize": 10, "labels": false, "title": null}}
   }},
  {"transform": [{"filter": "datum.series === 'Model'"}],
   "mark": {"type": "line", "opacity": 0},
   "encoding": {
    "x": {"field": "t", "type": "quantitative", "scale": {"domain": [0, 300], "nice": false, "zero": false}, "axis": null},
    "y": {"field": "v", "type": "quantitative", "scale": {"domain": [0, 60], "nice": false}, "axis": {"orient": "right", "values": [0, 10, 20, 30, 40, 50, 60], "tickSize": 20, "labels": false, "title": null}}
   }},
  {"transform": [{"filter": "datum.series === 'Model'"}],
   "mark": {"type": "line", "opacity": 0},
   "encoding": {
    "x": {"field": "t", "type": "quantitative", "scale": {"domain": [0, 300], "nice": false, "zero": false}, "axis": null},
    "y": {"field": "v", "type": "quantitative", "scale": {"domain": [0, 60], "nice": false}, "axis": {"orient": "right", "values": [0,1,2,3,4,5,6,7,8,9,10,11,12,13,14,15,16,17,18,19,20,21,22,23,24,25,26,27,28,29,30,31,32,33,34,35,36,37,38,39,40,41,42,43,44,45,46,47,48,49,50,51,52,53,54,55,56,57,58,59,60], "tickSize": 10, "labels": false, "title": null}}
   }}
 ],
 "resolve": {"axis": {"x": "independent", "y": "independent"}}
},
{
 "width": 1034, "height": 156,
 "data": {"name": "o3"},
 "layer": [
  {"transform": [{"filter": "datum.series === 'Observations'"}],
   "mark": {"type": "line", "strokeWidth": 5.5, "strokeJoin": "round", "color": "#000000"},
   "encoding": {
    "x": {"field": "t", "type": "quantitative", "scale": {"domain": [0, 300], "nice": false, "zero": false}, "axis": {"orient": "bottom", "values": [0, 60, 120, 180, 240, 300], "tickSize": 4, "labels": false, "title": null}},
    "y": {"field": "v", "type": "quantitative", "scale": {"domain": [0, 170], "nice": false}, "axis": {"orient": "left", "values": [0, 50, 100, 150], "tickSize": 20, "labelFlush": true, "labelOverlap": false, "labelPadding": 10, "labelFontSize": 29, "title": "O3 (ppbv)", "titleFontSize": 33, "titlePadding": 18}},
    "detail": {"field": "seg", "type": "nominal"}
   }},
  {"transform": [{"filter": "datum.series === 'Model'"}],
   "mark": {"type": "line", "strokeWidth": 6.5, "strokeJoin": "round", "color": "#ff0000"},
   "encoding": {
    "x": {"field": "t", "type": "quantitative", "scale": {"domain": [0, 300], "nice": false, "zero": false}, "axis": {"orient": "top", "values": [0, 60, 120, 180, 240, 300], "tickSize": 4, "labels": false, "title": null}},
    "y": {"field": "v", "type": "quantitative", "scale": {"domain": [0, 170], "nice": false}, "axis": {"orient": "left", "values": [0,10,20,30,40,50,60,70,80,90,100,110,120,130,140,150,160,170], "tickSize": 10, "labels": false, "title": null}}
   }},
  {"transform": [{"filter": "datum.series === 'Model'"}],
   "mark": {"type": "line", "opacity": 0},
   "encoding": {
    "x": {"field": "t", "type": "quantitative", "scale": {"domain": [0, 300], "nice": false, "zero": false}, "axis": null},
    "y": {"field": "v", "type": "quantitative", "scale": {"domain": [0, 170], "nice": false}, "axis": {"orient": "right", "values": [0, 50, 100, 150], "tickSize": 20, "labels": false, "title": null}}
   }},
  {"transform": [{"filter": "datum.series === 'Model'"}],
   "mark": {"type": "line", "opacity": 0},
   "encoding": {
    "x": {"field": "t", "type": "quantitative", "scale": {"domain": [0, 300], "nice": false, "zero": false}, "axis": null},
    "y": {"field": "v", "type": "quantitative", "scale": {"domain": [0, 170], "nice": false}, "axis": {"orient": "right", "values": [0,10,20,30,40,50,60,70,80,90,100,110,120,130,140,150,160,170], "tickSize": 10, "labels": false, "title": null}}
   }}
 ],
 "resolve": {"axis": {"x": "independent", "y": "independent"}}
},
{
 "width": 1034, "height": 156,
 "data": {"name": "alt"},
 "layer": [
  {"mark": {"type": "line", "strokeWidth": 7, "strokeJoin": "round", "color": "#000000"},
   "encoding": {
    "x": {"field": "t", "type": "quantitative", "scale": {"domain": [0, 300], "nice": false, "zero": false}, "axis": {"orient": "bottom", "values": [0, 60, 120, 180, 240, 300], "tickSize": 4, "labelFlush": false, "labelOverlap": false, "labelFontSize": 30, "labelPadding": 13, "labelExpr": "'9:' + (45 + datum.value / 60)", "title": "Time (CDT)", "titleFontSize": 31, "titlePadding": 1}},
    "y": {"field": "v", "type": "quantitative", "scale": {"domain": [0, 1], "nice": false}, "axis": {"orient": "left", "values": [0, 0.2, 0.4, 0.6, 0.8, 1.0], "format": ".1f", "tickSize": 20, "labelFlush": true, "labelOverlap": false, "labelPadding": 10, "labelFontSize": 29, "title": "Alt (km)", "titleFontSize": 33, "titlePadding": 18}}
   }},
  {"mark": {"type": "line", "opacity": 0},
   "encoding": {
    "x": {"field": "t", "type": "quantitative", "scale": {"domain": [0, 300], "nice": false, "zero": false}, "axis": {"orient": "top", "values": [0, 60, 120, 180, 240, 300], "tickSize": 4, "labels": false, "title": null}},
    "y": {"field": "v", "type": "quantitative", "scale": {"domain": [0, 1], "nice": false}, "axis": {"orient": "left", "values": [0,0.05,0.1,0.15,0.2,0.25,0.3,0.35,0.4,0.45,0.5,0.55,0.6,0.65,0.7,0.75,0.8,0.85,0.9,0.95,1], "tickSize": 10, "labels": false, "title": null}}
   }},
  {"mark": {"type": "line", "opacity": 0},
   "encoding": {
    "x": {"field": "t", "type": "quantitative", "scale": {"domain": [0, 300], "nice": false, "zero": false}, "axis": null},
    "y": {"field": "v", "type": "quantitative", "scale": {"domain": [0, 1], "nice": false}, "axis": {"orient": "right", "values": [0, 0.2, 0.4, 0.6, 0.8, 1.0], "tickSize": 20, "labels": false, "title": null}}
   }},
  {"mark": {"type": "line", "opacity": 0},
   "encoding": {
    "x": {"field": "t", "type": "quantitative", "scale": {"domain": [0, 300], "nice": false, "zero": false}, "axis": null},
    "y": {"field": "v", "type": "quantitative", "scale": {"domain": [0, 1], "nice": false}, "axis": {"orient": "right", "values": [0,0.05,0.1,0.15,0.2,0.25,0.3,0.35,0.4,0.45,0.5,0.55,0.6,0.65,0.7,0.75,0.8,0.85,0.9,0.95,1], "tickSize": 10, "labels": false, "title": null}}
   }}
 ],
 "resolve": {"axis": {"x": "independent", "y": "independent"}}
}
],
"spacing": 12,
"bounds": "flush",
"resolve": {"scale": {"color": "independent"}, "legend": {"color": "independent"}}
}
